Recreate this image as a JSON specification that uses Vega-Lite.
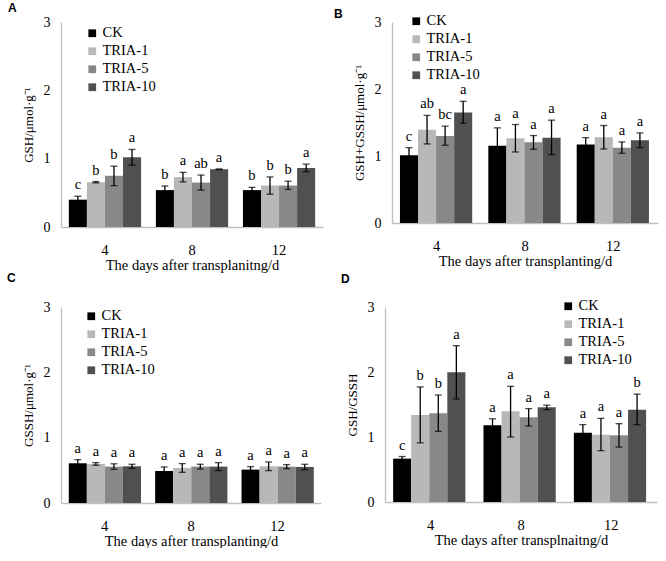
{
  "$schema": "https://vega.github.io/schema/vega-lite/v6.json",
  "background": "white",
  "padding": {"left": 7, "top": 2, "right": 2, "bottom": 0},
  "config": {
    "view": {"stroke": null},
    "font": "Liberation Serif",
    "axis": {"grid": false, "ticks": false, "domainColor": "#bfbfbf", "domainWidth": 1.3, "labelColor": "#000", "titleColor": "#000", "titleFontWeight": "normal", "labelFont": "Liberation Serif", "titleFont": "Liberation Serif"},
    "axisY": {"labelFontSize": 14, "labelPadding": 11, "titleFontSize": 13, "titleX": -26, "format": "d"},
    "axisX": {"labelFontSize": 14.5, "labelPadding": 16, "titleFontSize": 14.5, "titlePadding": 2, "labelAngle": 0},
    "legend": {"title": null, "orient": "none", "labelFont": "Liberation Serif", "labelFontSize": 14.5, "symbolType": "square", "symbolSize": 60, "symbolStrokeWidth": 0, "rowPadding": 3, "labelOffset": 3, "padding": 0},
    "title": {"font": "Liberation Sans", "fontSize": 12, "fontWeight": "bold", "anchor": "start", "frame": "group", "color": "#000"},
    "text": {"font": "Liberation Serif", "fontSize": 14.5}
  },
  "datasets": {
    "A": [
      {"day": "4", "treatment": "CK", "value": 0.40, "lo": 0.35, "hi": 0.45, "label": "c"},
      {"day": "4", "treatment": "TRIA-1", "value": 0.655, "lo": 0.645, "hi": 0.665, "label": "b"},
      {"day": "4", "treatment": "TRIA-5", "value": 0.75, "lo": 0.605, "hi": 0.89, "label": "b"},
      {"day": "4", "treatment": "TRIA-10", "value": 1.02, "lo": 0.905, "hi": 1.135, "label": "a"},
      {"day": "8", "treatment": "CK", "value": 0.54, "lo": 0.48, "hi": 0.60, "label": "b"},
      {"day": "8", "treatment": "TRIA-1", "value": 0.73, "lo": 0.66, "hi": 0.80, "label": "a"},
      {"day": "8", "treatment": "TRIA-5", "value": 0.65, "lo": 0.54, "hi": 0.76, "label": "ab"},
      {"day": "8", "treatment": "TRIA-10", "value": 0.845, "lo": 0.84, "hi": 0.85, "label": "a"},
      {"day": "12", "treatment": "CK", "value": 0.54, "lo": 0.51, "hi": 0.58, "label": "b"},
      {"day": "12", "treatment": "TRIA-1", "value": 0.607, "lo": 0.48, "hi": 0.733, "label": "b"},
      {"day": "12", "treatment": "TRIA-5", "value": 0.607, "lo": 0.55, "hi": 0.67, "label": "b"},
      {"day": "12", "treatment": "TRIA-10", "value": 0.864, "lo": 0.81, "hi": 0.92, "label": "a"}
    ],
    "B": [
      {"day": "4", "treatment": "CK", "value": 1.013, "lo": 0.90, "hi": 1.124, "label": "c"},
      {"day": "4", "treatment": "TRIA-1", "value": 1.39, "lo": 1.18, "hi": 1.606, "label": "ab"},
      {"day": "4", "treatment": "TRIA-5", "value": 1.30, "lo": 1.16, "hi": 1.445, "label": "bc"},
      {"day": "4", "treatment": "TRIA-10", "value": 1.65, "lo": 1.49, "hi": 1.816, "label": "a"},
      {"day": "8", "treatment": "CK", "value": 1.154, "lo": 0.89, "hi": 1.42, "label": "a"},
      {"day": "8", "treatment": "TRIA-1", "value": 1.264, "lo": 1.06, "hi": 1.47, "label": "a"},
      {"day": "8", "treatment": "TRIA-5", "value": 1.204, "lo": 1.10, "hi": 1.305, "label": "a"},
      {"day": "8", "treatment": "TRIA-10", "value": 1.274, "lo": 1.02, "hi": 1.535, "label": "a"},
      {"day": "12", "treatment": "CK", "value": 1.17, "lo": 1.065, "hi": 1.274, "label": "a"},
      {"day": "12", "treatment": "TRIA-1", "value": 1.28, "lo": 1.105, "hi": 1.455, "label": "a"},
      {"day": "12", "treatment": "TRIA-5", "value": 1.124, "lo": 1.04, "hi": 1.21, "label": "a"},
      {"day": "12", "treatment": "TRIA-10", "value": 1.234, "lo": 1.125, "hi": 1.345, "label": "a"}
    ],
    "C": [
      {"day": "4", "treatment": "CK", "value": 0.608, "lo": 0.552, "hi": 0.664, "label": "a"},
      {"day": "4", "treatment": "TRIA-1", "value": 0.598, "lo": 0.578, "hi": 0.618, "label": "a"},
      {"day": "4", "treatment": "TRIA-5", "value": 0.557, "lo": 0.515, "hi": 0.60, "label": "a"},
      {"day": "4", "treatment": "TRIA-10", "value": 0.562, "lo": 0.53, "hi": 0.593, "label": "a"},
      {"day": "8", "treatment": "CK", "value": 0.49, "lo": 0.435, "hi": 0.552, "label": "a"},
      {"day": "8", "treatment": "TRIA-1", "value": 0.537, "lo": 0.47, "hi": 0.603, "label": "a"},
      {"day": "8", "treatment": "TRIA-5", "value": 0.557, "lo": 0.52, "hi": 0.593, "label": "a"},
      {"day": "8", "treatment": "TRIA-10", "value": 0.557, "lo": 0.496, "hi": 0.618, "label": "a"},
      {"day": "12", "treatment": "CK", "value": 0.511, "lo": 0.465, "hi": 0.557, "label": "a"},
      {"day": "12", "treatment": "TRIA-1", "value": 0.562, "lo": 0.496, "hi": 0.628, "label": "a"},
      {"day": "12", "treatment": "TRIA-5", "value": 0.557, "lo": 0.526, "hi": 0.588, "label": "a"},
      {"day": "12", "treatment": "TRIA-10", "value": 0.552, "lo": 0.51, "hi": 0.593, "label": "a"}
    ],
    "D": [
      {"day": "4", "treatment": "CK", "value": 0.667, "lo": 0.634, "hi": 0.70, "label": "c"},
      {"day": "4", "treatment": "TRIA-1", "value": 1.338, "lo": 0.91, "hi": 1.77, "label": "b"},
      {"day": "4", "treatment": "TRIA-5", "value": 1.364, "lo": 1.087, "hi": 1.646, "label": "b"},
      {"day": "4", "treatment": "TRIA-10", "value": 1.995, "lo": 1.585, "hi": 2.405, "label": "a"},
      {"day": "8", "treatment": "CK", "value": 1.18, "lo": 1.08, "hi": 1.28, "label": "a"},
      {"day": "8", "treatment": "TRIA-1", "value": 1.395, "lo": 1.0, "hi": 1.78, "label": "a"},
      {"day": "8", "treatment": "TRIA-5", "value": 1.303, "lo": 1.17, "hi": 1.436, "label": "a"},
      {"day": "8", "treatment": "TRIA-10", "value": 1.456, "lo": 1.42, "hi": 1.49, "label": "a"},
      {"day": "12", "treatment": "CK", "value": 1.067, "lo": 0.945, "hi": 1.19, "label": "a"},
      {"day": "12", "treatment": "TRIA-1", "value": 1.036, "lo": 0.79, "hi": 1.287, "label": "a"},
      {"day": "12", "treatment": "TRIA-5", "value": 1.026, "lo": 0.845, "hi": 1.205, "label": "a"},
      {"day": "12", "treatment": "TRIA-10", "value": 1.42, "lo": 1.19, "hi": 1.66, "label": "b"}
    ]
  },
  "vconcat": [
    {
      "hconcat": [
        {
          "width": 262, "height": 205,
          "title": {"text": "A", "dx": -53, "dy": -5, "offset": -5},
          "data": {"name": "A"},
          "encoding": {
            "x": {"field": "day", "type": "nominal", "sort": ["4", "8", "12"], "scale": {"paddingInner": 0.17, "paddingOuter": 0.09}, "axis": {"title": "The days after transplanitng/d"}},
            "xOffset": {"field": "treatment", "sort": ["CK", "TRIA-1", "TRIA-5", "TRIA-10"], "scale": {"paddingInner": 0}}
          },
          "layer": [
            {"mark": {"type": "bar"}, "encoding": {
              "y": {"field": "value", "type": "quantitative", "scale": {"domain": [0, 3]}, "axis": {"values": [0, 1, 2, 3], "title": "GSH/μmol·g⁻¹"}},
              "color": {"field": "treatment", "type": "nominal", "sort": ["CK", "TRIA-1", "TRIA-5", "TRIA-10"], "scale": {"domain": ["CK", "TRIA-1", "TRIA-5", "TRIA-10"], "range": ["#000000", "#b8b8b8", "#888888", "#505050"]}, "legend": {"legendX": 24, "legendY": 4}}
            }},
            {"mark": {"type": "rule", "color": "#000", "strokeWidth": 1.3}, "encoding": {"y": {"field": "lo", "type": "quantitative"}, "y2": {"field": "hi"}}},
            {"mark": {"type": "tick", "color": "#000", "size": 7, "thickness": 1.3}, "encoding": {"y": {"field": "lo", "type": "quantitative"}}},
            {"mark": {"type": "tick", "color": "#000", "size": 7, "thickness": 1.3}, "encoding": {"y": {"field": "hi", "type": "quantitative"}}},
            {"mark": {"type": "text", "baseline": "alphabetic", "dy": -7, "fill": "#000"}, "encoding": {"y": {"field": "hi", "type": "quantitative"}, "text": {"field": "label"}}}
          ]
        },
        {
          "width": 266, "height": 201,
          "title": {"text": "B", "dx": -58, "offset": -7},
          "data": {"name": "B"},
          "encoding": {
            "x": {"field": "day", "type": "nominal", "sort": ["4", "8", "12"], "scale": {"paddingInner": 0.17, "paddingOuter": 0.09}, "axis": {"title": "The days after transplanting/d"}},
            "xOffset": {"field": "treatment", "sort": ["CK", "TRIA-1", "TRIA-5", "TRIA-10"], "scale": {"paddingInner": 0}}
          },
          "layer": [
            {"mark": {"type": "bar"}, "encoding": {
              "y": {"field": "value", "type": "quantitative", "scale": {"domain": [0, 3]}, "axis": {"values": [0, 1, 2, 3], "title": "GSH+GSSH/μmol·g⁻¹"}},
              "color": {"field": "treatment", "type": "nominal", "sort": ["CK", "TRIA-1", "TRIA-5", "TRIA-10"], "scale": {"domain": ["CK", "TRIA-1", "TRIA-5", "TRIA-10"], "range": ["#000000", "#b8b8b8", "#888888", "#505050"]}, "legend": {"legendX": 17, "legendY": -8}}
            }},
            {"mark": {"type": "rule", "color": "#000", "strokeWidth": 1.3}, "encoding": {"y": {"field": "lo", "type": "quantitative"}, "y2": {"field": "hi"}}},
            {"mark": {"type": "tick", "color": "#000", "size": 7, "thickness": 1.3}, "encoding": {"y": {"field": "lo", "type": "quantitative"}}},
            {"mark": {"type": "tick", "color": "#000", "size": 7, "thickness": 1.3}, "encoding": {"y": {"field": "hi", "type": "quantitative"}}},
            {"mark": {"type": "text", "baseline": "alphabetic", "dy": -7, "fill": "#000"}, "encoding": {"y": {"field": "hi", "type": "quantitative"}, "text": {"field": "label"}}}
          ]
        }
      ],
      "spacing": 11,
      "resolve": {"scale": {"color": "independent"}, "legend": {"color": "independent"}}
    },
    {
      "hconcat": [
        {
          "width": 260, "height": 196,
          "title": {"text": "C", "dx": -54, "dy": -27, "offset": -12},
          "data": {"name": "C"},
          "encoding": {
            "x": {"field": "day", "type": "nominal", "sort": ["4", "8", "12"], "scale": {"paddingInner": 0.17, "paddingOuter": 0.09}, "axis": {"title": "The days after transplanting/d"}},
            "xOffset": {"field": "treatment", "sort": ["CK", "TRIA-1", "TRIA-5", "TRIA-10"], "scale": {"paddingInner": 0}}
          },
          "layer": [
            {"mark": {"type": "bar"}, "encoding": {
              "y": {"field": "value", "type": "quantitative", "scale": {"domain": [0, 3]}, "axis": {"values": [0, 1, 2, 3], "title": "GSSH/μmol·g⁻¹"}},
              "color": {"field": "treatment", "type": "nominal", "sort": ["CK", "TRIA-1", "TRIA-5", "TRIA-10"], "scale": {"domain": ["CK", "TRIA-1", "TRIA-5", "TRIA-10"], "range": ["#000000", "#b8b8b8", "#888888", "#505050"]}, "legend": {"legendX": 23, "legendY": 2}}
            }},
            {"mark": {"type": "rule", "color": "#000", "strokeWidth": 1.3}, "encoding": {"y": {"field": "lo", "type": "quantitative"}, "y2": {"field": "hi"}}},
            {"mark": {"type": "tick", "color": "#000", "size": 7, "thickness": 1.3}, "encoding": {"y": {"field": "lo", "type": "quantitative"}}},
            {"mark": {"type": "tick", "color": "#000", "size": 7, "thickness": 1.3}, "encoding": {"y": {"field": "hi", "type": "quantitative"}}},
            {"mark": {"type": "text", "baseline": "alphabetic", "dy": -7, "fill": "#000"}, "encoding": {"y": {"field": "hi", "type": "quantitative"}, "text": {"field": "label"}}}
          ]
        },
        {
          "width": 272, "height": 195,
          "title": {"text": "D", "dx": -44, "dy": -25, "offset": -12},
          "data": {"name": "D"},
          "encoding": {
            "x": {"field": "day", "type": "nominal", "sort": ["4", "8", "12"], "scale": {"paddingInner": 0.17, "paddingOuter": 0.09}, "axis": {"title": "The days after  transplnaitng/d"}},
            "xOffset": {"field": "treatment", "sort": ["CK", "TRIA-1", "TRIA-5", "TRIA-10"], "scale": {"paddingInner": 0}}
          },
          "layer": [
            {"mark": {"type": "bar"}, "encoding": {
              "y": {"field": "value", "type": "quantitative", "scale": {"domain": [0, 3]}, "axis": {"values": [0, 1, 2, 3], "title": "GSH/GSSH"}},
              "color": {"field": "treatment", "type": "nominal", "sort": ["CK", "TRIA-1", "TRIA-5", "TRIA-10"], "scale": {"domain": ["CK", "TRIA-1", "TRIA-5", "TRIA-10"], "range": ["#000000", "#b8b8b8", "#888888", "#505050"]}, "legend": {"legendX": 176, "legendY": -8}}
            }},
            {"mark": {"type": "rule", "color": "#000", "strokeWidth": 1.3}, "encoding": {"y": {"field": "lo", "type": "quantitative"}, "y2": {"field": "hi"}}},
            {"mark": {"type": "tick", "color": "#000", "size": 7, "thickness": 1.3}, "encoding": {"y": {"field": "lo", "type": "quantitative"}}},
            {"mark": {"type": "tick", "color": "#000", "size": 7, "thickness": 1.3}, "encoding": {"y": {"field": "hi", "type": "quantitative"}}},
            {"mark": {"type": "text", "baseline": "alphabetic", "dy": -7, "fill": "#000"}, "encoding": {"y": {"field": "hi", "type": "quantitative"}, "text": {"field": "label"}}}
          ]
        }
      ],
      "spacing": 20,
      "resolve": {"scale": {"color": "independent"}, "legend": {"color": "independent"}}
    }
  ],
  "spacing": 0,
  "resolve": {"scale": {"color": "independent"}, "legend": {"color": "independent"}}
}
